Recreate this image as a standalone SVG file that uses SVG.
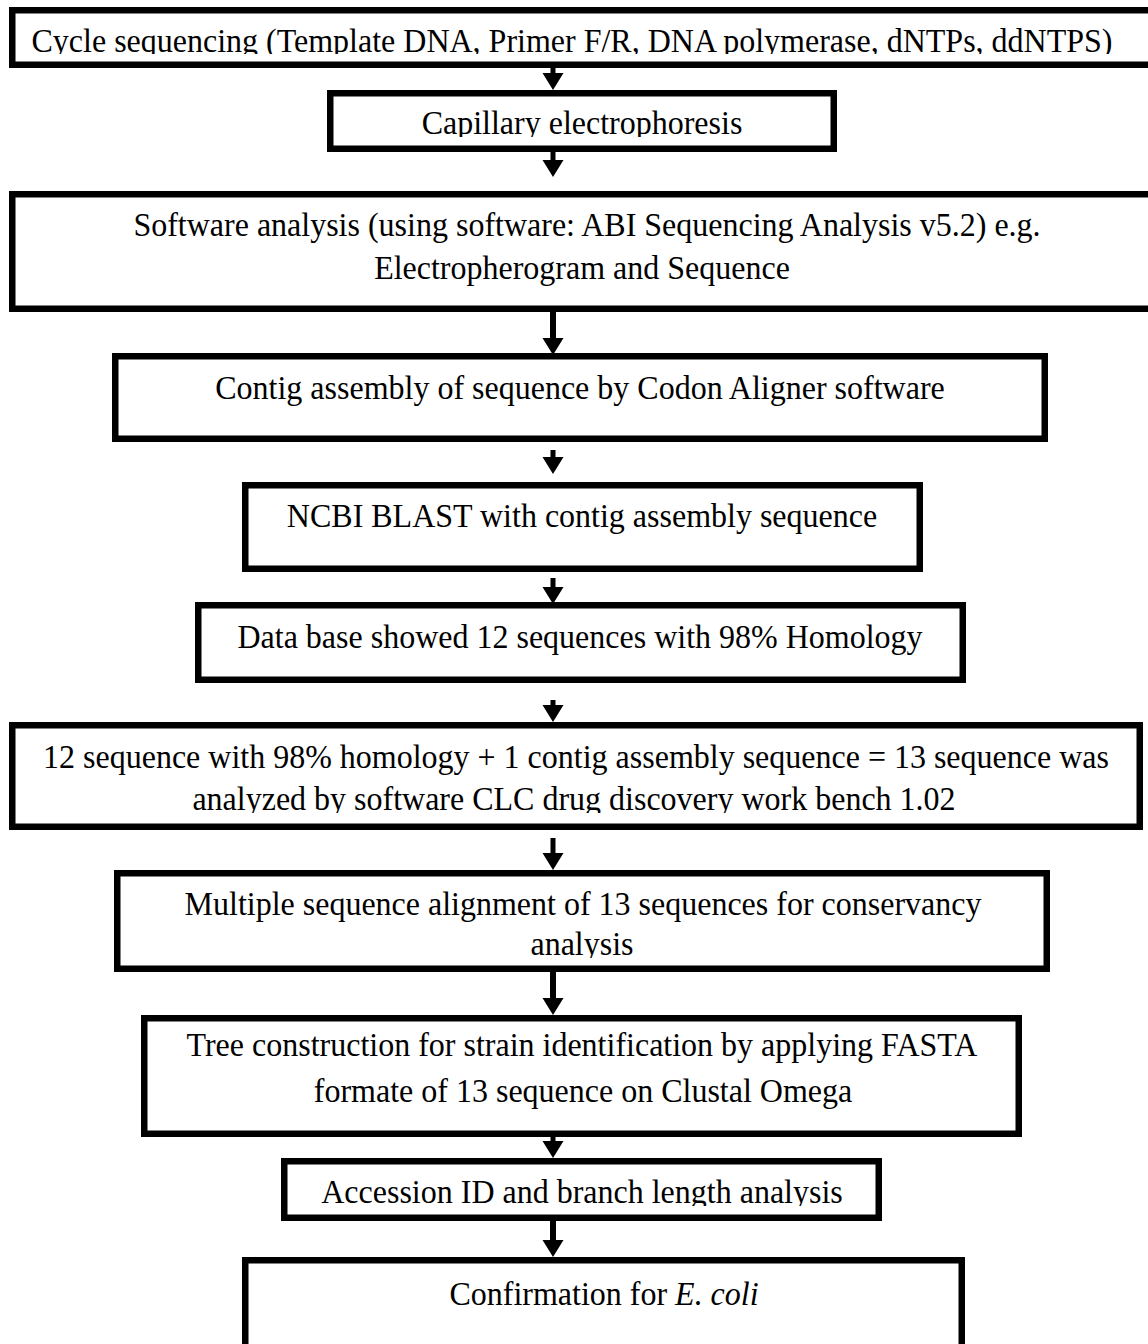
<svg xmlns="http://www.w3.org/2000/svg" width="1148" height="1344" viewBox="0 0 1148 1344">
<style>
.box{fill:#fff;stroke:#000;stroke-width:6.5}
.t{font-family:"Liberation Serif","Times New Roman",serif;font-size:32px;fill:#000;text-anchor:middle}
.arr{fill:#000}
</style>
<defs>
<clipPath id="c1"><rect x="0" y="0" width="1148" height="54"/></clipPath>
<clipPath id="c2"><rect x="0" y="90" width="1148" height="47"/></clipPath>
<clipPath id="c7"><rect x="0" y="780" width="1148" height="33"/></clipPath>
<clipPath id="c8"><rect x="0" y="920" width="1148" height="38"/></clipPath>
<clipPath id="c10"><rect x="0" y="1160" width="1148" height="46"/></clipPath>
</defs>
<rect width="1148" height="1344" fill="#fff"/>
<g id="connectors">
<polygon class="arr" points="550.5,68 555.5,68 555.5,73 563.5,73 553,90 542.5,73 550.5,73"/>
<polygon class="arr" points="550.5,152 555.5,152 555.5,160 563.5,160 553,177 542.5,160 550.5,160"/>
<polygon class="arr" points="550,312 556,312 556,338 563.5,338 553,355 542.5,338 550,338"/>
<polygon class="arr" points="550.5,450 555.5,450 555.5,457 563.5,457 553,474 542.5,457 550.5,457"/>
<polygon class="arr" points="550.5,578 555.5,578 555.5,587 563.5,587 553,604 542.5,587 550.5,587"/>
<polygon class="arr" points="550.5,700 555.5,700 555.5,705 563.5,705 553,722 542.5,705 550.5,705"/>
<polygon class="arr" points="550.5,838 555.5,838 555.5,853 563.5,853 553,870 542.5,853 550.5,853"/>
<polygon class="arr" points="550,972 556,972 556,998 563.5,998 553,1015 542.5,998 550,998"/>
<polygon class="arr" points="550.5,1137 555.5,1137 555.5,1141 563.5,1141 553,1158 542.5,1141 550.5,1141"/>
<polygon class="arr" points="550,1221 556,1221 556,1240 563.5,1240 553,1257 542.5,1240 550,1240"/>
</g>
<g id="n1">
<rect class="box" x="12.25" y="10.25" width="1150" height="54.5"/>
<g clip-path="url(#c1)"><text class="t" transform="translate(572,52) scale(1,1.08)">Cycle sequencing (Template DNA, Primer F/R, DNA polymerase, dNTPs, ddNTPS)</text></g>
</g>
<g id="n2">
<rect class="box" x="330.25" y="93.25" width="503.5" height="55.5"/>
<g clip-path="url(#c2)"><text class="t" transform="translate(582,134) scale(1,1.08)">Capillary electrophoresis</text></g>
</g>
<g id="n3">
<rect class="box" x="12.25" y="194.25" width="1150" height="114.5"/>
<text class="t" transform="translate(587,236) scale(1,1.08)">Software analysis (using software: ABI Sequencing Analysis v5.2) e.g.</text>
<text class="t" transform="translate(582,279) scale(1,1.08)">Electropherogram and Sequence</text>
</g>
<g id="n4">
<rect class="box" x="115.25" y="356.25" width="929.5" height="82.5"/>
<text class="t" transform="translate(580,399) scale(1,1.08)">Contig assembly of sequence by Codon Aligner software</text>
</g>
<g id="n5">
<rect class="box" x="245.25" y="485.25" width="674.5" height="83.5"/>
<text class="t" transform="translate(582,527) scale(1,1.08)">NCBI BLAST with contig assembly sequence</text>
</g>
<g id="n6">
<rect class="box" x="198.25" y="605.25" width="764.5" height="74.5"/>
<text class="t" transform="translate(580,648) scale(1,1.08)">Data base showed 12 sequences with 98% Homology</text>
</g>
<g id="n7">
<rect class="box" x="12.25" y="725.25" width="1127.5" height="101.5"/>
<text class="t" transform="translate(576,768) scale(1,1.08)">12 sequence with 98% homology + 1 contig assembly sequence = 13 sequence was</text>
<g clip-path="url(#c7)"><text class="t" transform="translate(574,810) scale(1,1.08)">analyzed by software CLC drug discovery work bench 1.02</text></g>
</g>
<g id="n8">
<rect class="box" x="117.25" y="873.25" width="929.5" height="95.5"/>
<text class="t" transform="translate(583,915) scale(1,1.08)">Multiple sequence alignment of 13 sequences for conservancy</text>
<g clip-path="url(#c8)"><text class="t" transform="translate(582,955) scale(1,1.08)">analysis</text></g>
</g>
<g id="n9">
<rect class="box" x="144.25" y="1018.25" width="874.5" height="115.5"/>
<text class="t" transform="translate(582,1056) scale(1,1.08)">Tree construction for strain identification by applying FASTA</text>
<text class="t" transform="translate(583,1102) scale(1,1.08)">formate of 13 sequence on Clustal Omega</text>
</g>
<g id="n10">
<rect class="box" x="284.25" y="1161.25" width="594.5" height="56.5"/>
<g clip-path="url(#c10)"><text class="t" transform="translate(582,1203) scale(1,1.08)">Accession ID and branch length analysis</text></g>
</g>
<g id="n11">
<rect class="box" x="245.25" y="1260.25" width="716.5" height="100"/>
<text class="t" transform="translate(604,1305) scale(1,1.08)">Confirmation for <tspan font-style="italic">E. coli</tspan></text>
</g>
</svg>
